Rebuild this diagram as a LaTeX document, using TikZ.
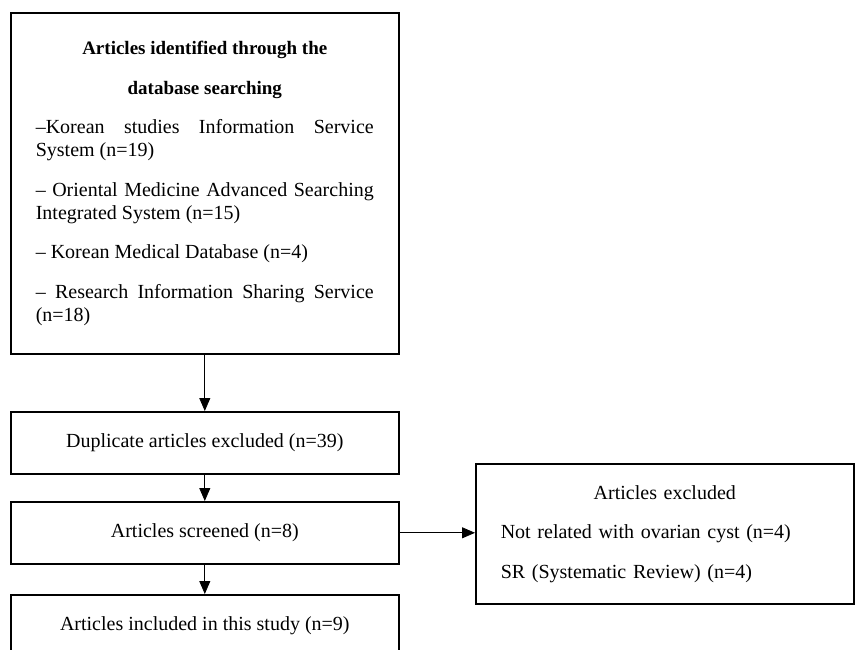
\documentclass[tikz,border=0pt]{standalone}
\usepackage{fontspec}
\setmainfont{Liberation Serif}
\usetikzlibrary{arrows.meta}

\begin{document}
\begin{tikzpicture}[x=1pt,y=-1pt,
  box/.style={draw,line width=1.6pt,anchor=north west,inner sep=0pt,
    minimum width=388pt,minimum height=62pt,font=\fontsize{20}{23}\selectfont},
  flow/.style={-{Triangle[width=11pt,length=13pt]},line width=0.8pt}]
  \useasboundingbox (0,0) rectangle (855,650);
  \clip (0,0) rectangle (855,650);%<- last box runs off the page
  \node[box,minimum height=341pt,text width=338pt,align=justify] (search) at (10,12)
  {\setlength{\parskip}{16.5pt}%
    {\centering\fontsize{19}{23}\selectfont\bfseries Articles identified through the\par database searching\par}
    --Korean studies Information Service\linebreak System (n=19)\par
    -- Oriental Medicine Advanced Searching\linebreak Integrated System (n=15)\par
    -- Korean Medical Database (n=4)\par
    -- Research Information Sharing Service\linebreak (n=18)\par\vspace{10pt}};
  \node[box] (dup) at (10,411) {Duplicate articles excluded (n=39)};
  \node[box] (screen) at (10,501) {Articles screened (n=8)};
  \node[box] (incl) at (10,594) {Articles included in this study (n=9)};
  \node[box,minimum width=378pt,minimum height=140pt,text width=328pt,align=left]
    (excl) at (475,463)
  {\setlength{\parskip}{16.5pt}%
    {\centering Articles excluded\par}
    Not related with ovarian cyst (n=4)\par
    SR (Systematic Review) (n=4)};
  \draw[flow] (search) -- (dup);
  \draw[flow] (dup) -- (screen);
  \draw[flow] (screen) -- (incl);
  \draw[flow] (screen) -- (screen -| excl.west);
\end{tikzpicture}
\end{document}
